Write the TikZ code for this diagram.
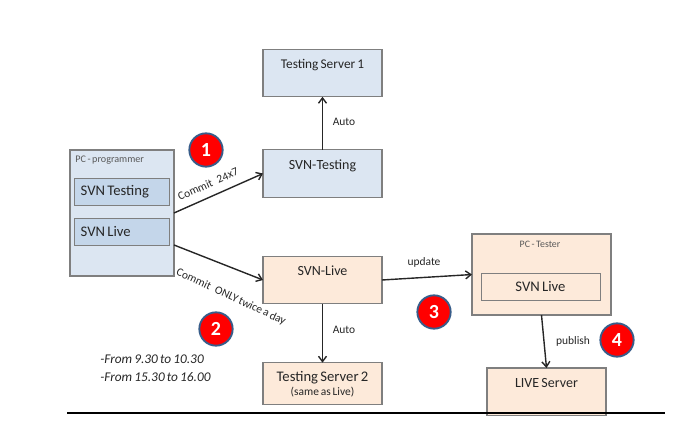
\documentclass[tikz,border=0pt]{standalone}
\usepackage{fontspec}
\setmainfont[WordSpace=0.7]{Carlito}
\usepackage{xcolor}
\usetikzlibrary{positioning,arrows.meta,shadows}
\definecolor{paleblue}{HTML}{DCE6F2}
\definecolor{midblue}{HTML}{C4D6EA}
\definecolor{peach}{HTML}{FDEADA}
\definecolor{edge}{HTML}{7F7F7F}
\definecolor{ringblue}{HTML}{385D8A}
\definecolor{ink}{HTML}{262626}
\begin{document}
\begin{tikzpicture}[
  x=0.75pt,y=-0.75pt,
  >={Straight Barb[length=4pt,width=6pt]},
  node distance=44.25pt and 66.75pt,
  basebox/.style={
    draw=edge,
    fill=#1,
    line width=0.8pt,
    outer sep=0pt,
    align=center,
    text=ink,
    drop shadow={shadow xshift=0.5pt,shadow yshift=-0.5pt,opacity=0.25}
  },
  server/.style={
    basebox=#1,
    minimum width=89.25pt,
    minimum height=35.6pt
  },
  title/.style={
    label={[font=\fontsize{10.5}{12}\selectfont,text=ink,anchor=north,yshift=-4pt]north:#1}
  },
  innerbox/.style={
    basebox=#1,
    line width=0.7pt,
    font=\fontsize{11}{12}\selectfont,
    minimum height=20.25pt,
    inner sep=0pt
  },
  badge/.style={
    circle,
    draw=ringblue,
    fill=red,
    line width=1.4pt,
    minimum size=25pt,
    inner sep=0pt,
    text=white,
    font=\bfseries\fontsize{15}{17}\selectfont
  },
  flow/.style={->,line width=1.05pt,draw=black!85},
  note/.style={font=\fontsize{8.6}{10}\selectfont,text=ink,inner sep=0pt}
]
\useasboundingbox (0,0) rectangle (675,427);

\node[basebox=paleblue, minimum width=78pt, minimum height=94.5pt] (programmer) at (122,213) {};
\node[note, font=\fontsize{7.6}{9}\selectfont, text=black!65, anchor=west] (programmerlabel) at (75,160) {PC - programmer};
\node[innerbox=midblue, anchor=north west, inner xsep=5pt] (innertesting) at (74,178) {\makebox[61.25pt][l]{SVN Testing}};
\node[innerbox=midblue, anchor=north west, inner xsep=5pt] (innerlive) at (74,218) {\makebox[61.25pt][l]{SVN Live}};

\node[server=paleblue, right=of programmer, yshift=29.6pt, title=SVN-Testing] (svntesting) {};
\node[server=paleblue, above=39.75pt of svntesting, title={\fontsize{10}{12}\selectfont Testing Server 1}] (server1) {};
\node[server=peach, below=of svntesting, title=SVN-Live] (svnlive) {};
\node[server=peach, below=44.25pt of svnlive, minimum height=31.5pt, inner sep=0pt] (server2) {\fontsize{11}{12}\selectfont Testing Server 2\\[-1.5pt]\fontsize{8.6}{9}\selectfont (same as Live)};

\node[basebox=peach, right=67.5pt of svnlive, yshift=4.1pt, minimum width=104.25pt, minimum height=60.75pt] (tester) {};
\node[note, font=\fontsize{7.4}{9}\selectfont, text=black!65] (testerlabel) at (540,244) {PC - Tester};
\node[innerbox=peach, minimum width=89.25pt] (innertester) at (540.5,286.5) {SVN Live};
\node[server=peach, below=39.75pt of tester, xshift=3.75pt, title=LIVE Server] (liveserver) {};

\node[badge] (one) at (206,150) {1};
\node[badge] (two) at (216,329) {2};
\node[badge] (three) at (434,312) {3};
\node[badge] (four) at (617,340) {4};

\draw[flow] (programmer.east) -- (svntesting.west);
\draw[flow] ([yshift=-24pt]programmer.east) -- (svnlive.west);
\draw[flow] (svntesting) -- (server1);
\draw[flow] (svnlive) -- (server2);
\draw[flow] (svnlive.east) -- (tester.west);
\draw[flow] (tester.south) -- (liveserver.north);

\node[note, rotate=23.7] (commitall) at (208,184) {Commit~~ 24x7};
\node[note, rotate=-25] (committwice) at (231,297) {Commit~~ ONLY twice a day};
\node[note] (auto1) at (344,122) {Auto};
\node[note] (auto2) at (344,330) {Auto};
\node[note] (update) at (424,262) {update};
\node[note] (publish) at (573,341) {publish};
\node[note, font=\itshape\fontsize{10}{13.5}\selectfont, align=left, anchor=west] (hours) at (100,368) {-From 9.30 to 10.30\\-From 15.30 to 16.00};

\coordinate (ruleleft) at (67,413.5);
\coordinate (ruleright) at (665,413.5);
\draw[line width=1.5pt] (ruleleft) -- (ruleright);
\end{tikzpicture}
\end{document}
